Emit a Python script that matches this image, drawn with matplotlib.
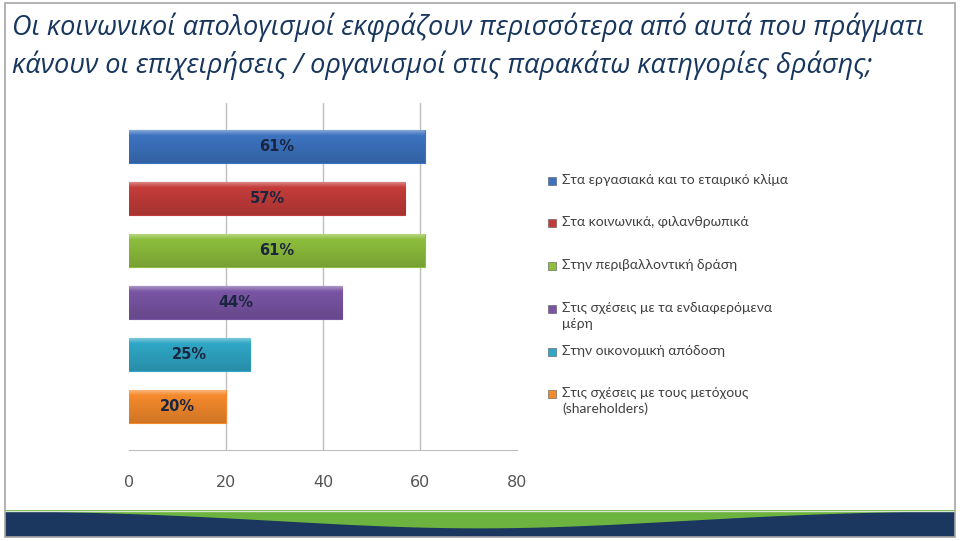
import matplotlib
matplotlib.use("Agg")
import matplotlib.pyplot as plt
from matplotlib.patches import Rectangle, Polygon
from matplotlib.colors import to_rgb
import numpy as np

title_lines = ["Οι κοινωνικοί απολογισμοί εκφράζουν περισσότερα από αυτά που πράγματι",
               "κάνουν οι επιχειρήσεις / οργανισμοί στις παρακάτω κατηγορίες δράσης;"]
categories = ["Στα εργασιακά και το εταιρικό κλίμα",
              "Στα κοινωνικά, φιλανθρωπικά",
              "Στην περιβαλλοντική δράση",
              "Στις σχέσεις με τα ενδιαφερόμενα\nμέρη",
              "Στην οικονομική απόδοση",
              "Στις σχέσεις με τους μετόχους\n(shareholders)"]
values = [61, 57, 61, 44, 25, 20]
colors = ["#3C73C0", "#C43C3A", "#8DBE3C", "#7A55A4", "#2FA7C6", "#F58A2C"]
xticks = [0, 20, 40, 60, 80]

W, H = 960, 541
fig = plt.figure(figsize=(W / 100, H / 100), dpi=100)
fig.patch.set_facecolor("white")

# border
fig.patches.append(Rectangle((5 / W, 4 / H), 950 / W, 534 / H, transform=fig.transFigure,
                             fill=False, edgecolor="#A6A6A6", linewidth=1.2))

# title
for i, line in enumerate(title_lines):
    fig.text(12 / W, 1 - (35 + i * 38) / H, line, fontsize=19.5, style="italic",
             family="Open Sans", color="#17365D", va="baseline", ha="left")

ax = fig.add_axes([129 / W, (541 - 450) / H, (517 - 129) / W, (450 - 103) / H])
y = np.arange(len(values))
bars = ax.barh(y, values, height=0.63, color=colors, edgecolor=colors, linewidth=0.8, zorder=3)
# subtle vertical gradient on each bar
for b, c in zip(bars, colors):
    base = np.array(to_rgb(c))
    t = np.linspace(0, 1, 32)[:, None]
    light = base + (1 - base) * 0.35
    dark = base * 0.85
    grad = np.where(t < 0.15, light + (base - light) * (t / 0.15),
                    base + (dark - base) * ((t - 0.15) / 0.85))
    img = np.repeat(grad[:, None, :], 2, axis=1)
    x0, y0, w, h = b.get_x(), b.get_y(), b.get_width(), b.get_height()
    im = ax.imshow(img, extent=[x0, x0 + w, y0 + h, y0], aspect="auto", zorder=3.5,
                   interpolation="bilinear")
    im.set_clip_path(b)
for yi, v in zip(y, values):
    ax.text(v / 2, yi, f"{v}%", ha="center", va="center", fontsize=10.5,
            fontweight="bold", color="#1A2540", zorder=4)
ax.set_xlim(0, 80)
ax.set_ylim(len(values) - 1 + 0.83, -0.83)
ax.set_xticks(xticks)
ax.set_xticklabels([str(t) for t in xticks], fontsize=11.5, color="#555555")
ax.tick_params(axis="x", length=0, pad=18)
ax.set_yticks([])
for s in ["top", "right", "left"]:
    ax.spines[s].set_visible(False)
ax.spines["bottom"].set_color("#BFBFBF")
for t in xticks[1:-1]:
    ax.axvline(t, color="#BFBFBF", linewidth=1, zorder=0)

# legend
leg_y = [181, 223, 266, 309, 352, 394]
for c, lab, ly in zip(colors, categories, leg_y):
    fig.patches.append(Rectangle((548 / W, 1 - (ly + 4) / H), 8 / W, 8 / H,
                                 transform=fig.transFigure, facecolor=c,
                                 edgecolor="#555555", linewidth=0.4))
    fig.text(562 / W, 1 - (ly - 7) / H, lab, fontsize=10, family="Lato", color="#404040",
             va="top", ha="left", linespacing=1.35)

# bottom band
band = fig.add_axes([5 / W, (541 - 537) / H, 950 / W, 27 / H])
band.set_xlim(0, 1)
band.set_ylim(0, 1)
band.axis("off")
band.add_patch(Rectangle((0, 0), 1, 1, facecolor="#1B365F", edgecolor="none"))
xs = np.linspace(0, 1, 200)
curve = 1 - 0.68 * np.exp(-((xs - 0.5) / 0.3) ** 2)
pts = np.column_stack([xs, curve])
pts = np.vstack([pts, [[1, 1], [0, 1]]])
band.add_patch(Polygon(pts, closed=True, facecolor="#6DB33F", edgecolor="none"))
band.axhline(0.98, color="#D9E8CF", linewidth=1)

fig.savefig("out.png", dpi=100, facecolor="white")
